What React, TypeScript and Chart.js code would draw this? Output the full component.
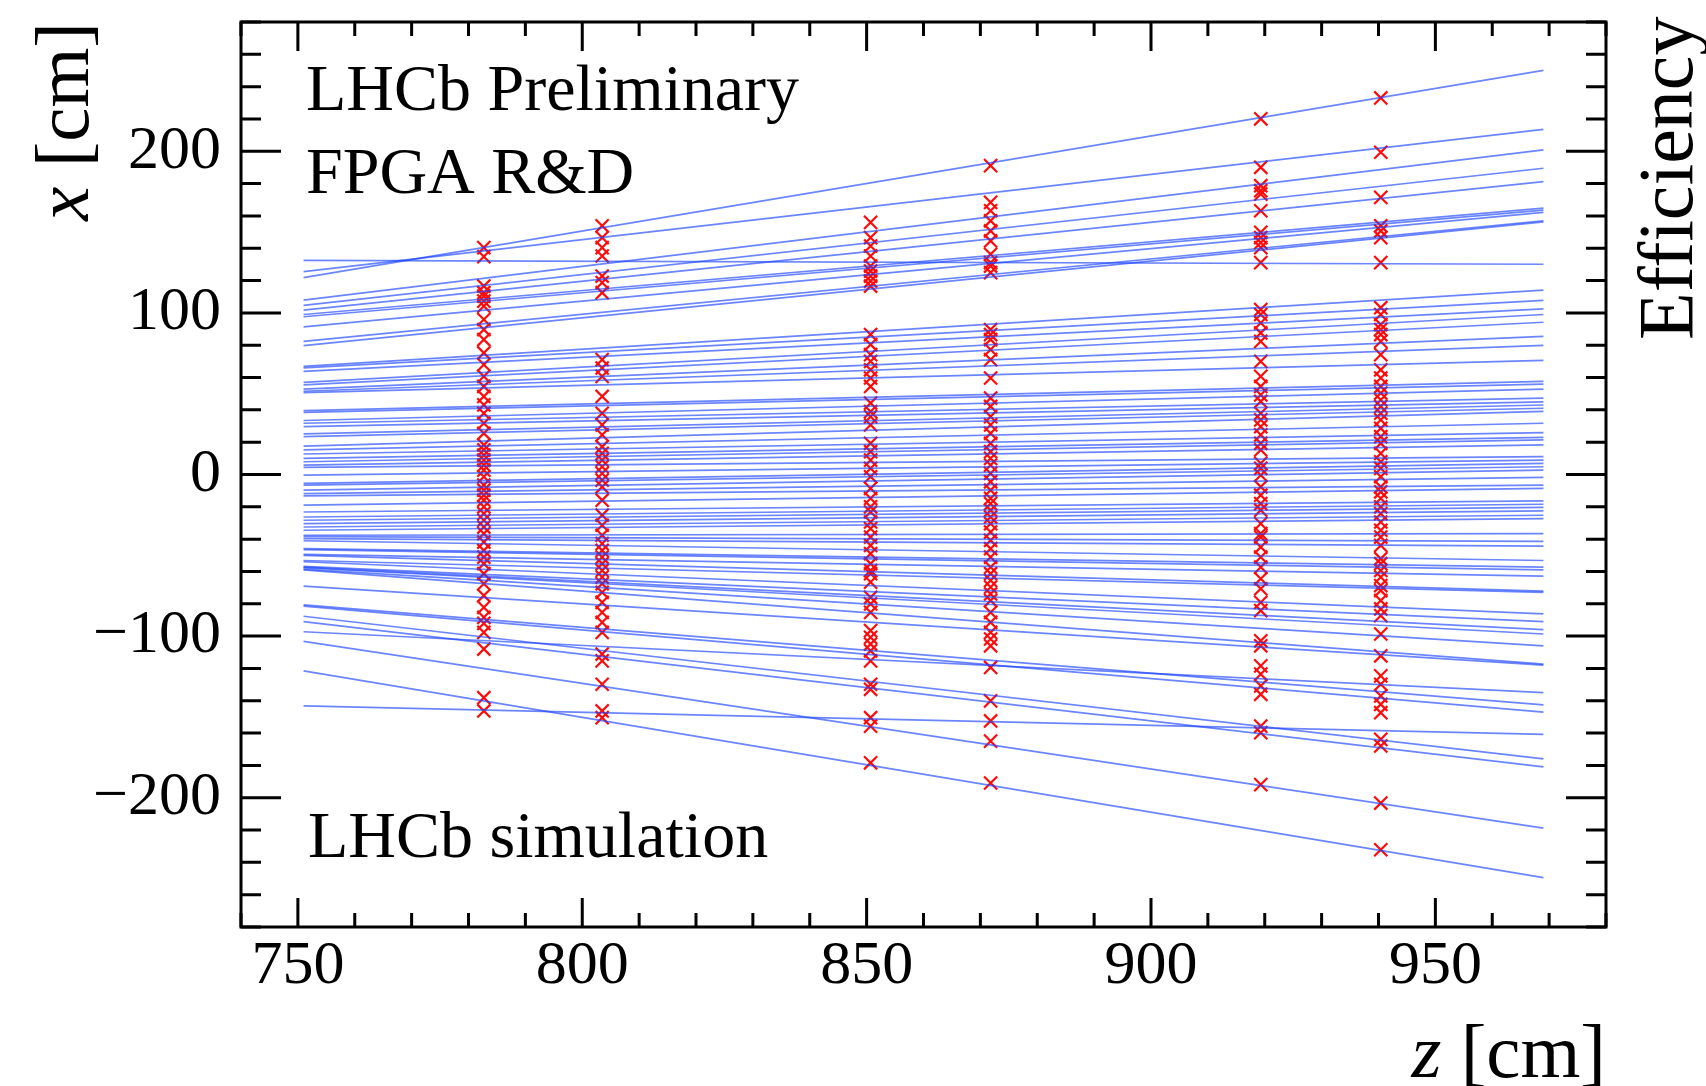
import { useEffect, useRef } from 'react';
import { Chart, registerables } from 'chart.js';

Chart.register(...registerables);

// Track line end points (x [cm]) at the first and last z of the drawn segment
const Z_START = 751;
const Z_END = 969;
const trackStarts = [
  121.8, 125.5, 132.5, 107.9, 104.6, 101.7, 99, 97.6, 91.4, 82.4, 79.8,
  66.9, 66.0, 63.8, 57, 55.5, 52.8, 51.5, 50.7,
  39.5, 38.5, 33.4, 31.7, 29.6, 25.1, 23.4, 17.6, 15.2, 12.7, 10, 7.9, 5.8, 4.4, -0.4, -5.5, -6.6, -9.7, -11.8, -13.2,
  -19, -23.2, -26.3, -28.3, -30.4, -32.5, -34.5, -37.6, -38.5, -39.7, -41, -45.9, -46.5, -49.4, -50, -53.2, -54,
  -56.9, -57.3, -57.7, -58.5, -59,
  -69.1, -80.7, -81.5, -87.7, -91, -97.3, -103.3, -121.5, -143.2,
];
const trackEnds = [
  250.1, 213.5, 130.1, 200.9, 189.5, 181.2, 164.8, 163.6, 162.2, 157, 156.3,
  114.1, 107.7, 102.5, 99, 94.2, 85.5, 79.9, 70.6,
  57.6, 55.9, 52.8, 47.3, 45, 43, 41, 39, 31.7, 25.9, 23, 21.4, 18.3, 11, 8.9, 6.9, 4.8, 2.7, -1.8, -6.6,
  -8.6, -16.3, -18.4, -20.4, -22.5, -25.2, -27.3, -36.6, -41.4, -44.3, -53.2, -57.3, -59, -62.9, -72.2, -73, -86.3,
  -91.1, -96, -98.7, -106, -117.3,
  -118, -142.6, -147, -176, -180.9, -135, -218.8, -249.4, -160.8,
];

// Station positions (z [cm]) and hits (x [cm]) at each station
const stationZ = [782.7, 803.5, 850.7, 871.8, 919.3, 940.4];
const hitsS1 = [140.4, 134.8, 116.6, 112.5, 110.4, 107.3, 104.2, 95.9, 89.7, 83.5, 75.2, 68, 60.7, 54.5, 48.3, 43.1, 37.9, 31.7, 25.5, 18.3, 15.2, 12, 8.9, 5.8, 2.7, -1.4, -6.6, -9.7, -12.8, -15.9, -20, -24.2, -28.3, -32.5, -36.6, -41.8, -47, -51.1, -55.2, -61.4, -67.6, -74.9, -82.2, -88.4, -92.1, -97.7, -108, -138.1, -146.3];
const hitsS2 = [153.9, 146.6, 140.4, 135.2, 122.8, 118.7, 112.5, 71.1, 65.9, 60.7, 48.3, 37.9, 30.7, 24.5, 17.2, 13.1, 8.9, 4.8, 0.7, -3.5, -7.6, -15.9, -25.2, -31.4, -37.6, -42.8, -47, -51.1, -55.2, -59.4, -63.5, -67.6, -72.9, -79.1, -85.3, -91.5, -97.7, -111.1, -115.3, -129.8, -146.3, -150.5];
const hitsS3 = [156, 146.6, 141.4, 135.2, 129, 125.9, 122.8, 119.7, 116.6, 86.6, 80.4, 74.2, 70, 64.8, 59.7, 54.5, 44.2, 38.9, 35.8, 30.7, 19.3, 14.1, 8.9, 3.8, -1.4, -8.6, -14.8, -20, -23.2, -29.4, -33.5, -38.7, -43.9, -49, -55.2, -59.4, -61.4, -66.6, -76, -80.1, -85.3, -96.6, -100.8, -104.9, -109.1, -115.3, -129.8, -132.9, -150.5, -155.7, -178.4];
const hitsS4 = [191.1, 168.4, 163.2, 157, 150.7, 144.5, 136.3, 131.1, 129, 124.9, 89.7, 86.6, 83.5, 77.3, 71.1, 59.7, 47.3, 42.1, 35.8, 30.7, 25.5, 19.3, 14.1, 10, 5.8, 0.7, -4.5, -9.7, -14.8, -18, -22.1, -26.3, -30.4, -35.6, -40.7, -45.9, -51.1, -57.3, -61.4, -65.6, -69.7, -73.9, -78, -85.3, -91.5, -97.7, -101.8, -106, -119.4, -140.1, -152.5, -165, -190.9];
const hitsS5 = [220.1, 190.1, 178.7, 175.6, 173.5, 163.2, 149.8, 146.6, 143.5, 140.4, 131.1, 102.1, 99, 93.8, 87.6, 82.4, 70, 60.7, 54.5, 49.3, 45.2, 37.9, 33.8, 29.6, 24.5, 19.3, 15.2, 6.9, 3.8, -0.4, -7.6, -12.8, -18, -22.1, -30.4, -36.6, -38.7, -44.9, -51.1, -57.3, -64.5, -70.7, -79.1, -84.2, -102.9, -106, -118.4, -123.5, -130.8, -136, -155.7, -159.8, -191.9];
const hitsS6 = [233, 199.4, 171.5, 153.9, 150.7, 146.6, 131.1, 103.2, 99, 92.8, 89.7, 86.6, 82.4, 74.2, 64.8, 59.7, 54.5, 50.4, 46.2, 42.1, 37.9, 33.8, 28.6, 23.4, 19.3, 13.1, 7.9, 3.8, -1.4, -7.6, -10.7, -14.8, -20, -24.2, -29.4, -34.5, -38.7, -43.9, -52.1, -55.2, -59.4, -63.5, -68.7, -71.8, -78, -83.2, -87.3, -98.7, -112.2, -124.6, -129.8, -137, -142.2, -147.4, -163.9, -168, -203.3, -232.2];
const stationHits = [hitsS1, hitsS2, hitsS3, hitsS4, hitsS5, hitsS6];

// Axis ticks
const xTickValues = [750, 800, 850, 900, 950];
const yTickValues = [-200, -100, 0, 100, 200];
const X_MIN = 740, X_MAX = 980, Y_MIN = -280, Y_MAX = 280;

const SERIF = '"Liberation Serif", "Times New Roman", serif';

const framePlugin = {
  id: 'rootFrame',
  afterDraw(chart: any) {
    const { ctx, chartArea } = chart;
    const { left, right, top, bottom } = chartArea;
    const xs = chart.scales.x;
    const ys = chart.scales.y;
    ctx.save();
    ctx.strokeStyle = '#000';
    ctx.lineWidth = 3;
    ctx.lineCap = 'butt';
    ctx.strokeRect(left, top, right - left, bottom - top);
    ctx.beginPath();
    for (let v = X_MIN; v <= X_MAX; v += 10) {
      const px = xs.getPixelForValue(v);
      const len = v % 50 === 0 ? 29 : 14;
      ctx.moveTo(px, bottom);
      ctx.lineTo(px, bottom - len);
      ctx.moveTo(px, top);
      ctx.lineTo(px, top + len);
    }
    for (let v = Y_MIN; v <= Y_MAX; v += 20) {
      const py = ys.getPixelForValue(v);
      const len = v % 100 === 0 ? 40 : 20;
      ctx.moveTo(left, py);
      ctx.lineTo(left + len, py);
      ctx.moveTo(right, py);
      ctx.lineTo(right - len, py);
    }
    ctx.stroke();

    // Labels inside the frame
    ctx.fillStyle = '#000';
    ctx.textBaseline = 'alphabetic';
    ctx.textAlign = 'left';
    ctx.font = `66px ${SERIF}`;
    ctx.fillText('LHCb Preliminary', 306, 110);
    ctx.fillText('FPGA R&D', 306, 193);
    ctx.fillText('LHCb simulation', 308, 857);

    // Axis titles
    const italic = `italic 77px ${SERIF}`;
    const normal = `77px ${SERIF}`;
    // y title: "x [cm]" rotated, ending at top of frame
    ctx.save();
    ctx.translate(88, top);
    ctx.rotate(-Math.PI / 2);
    ctx.font = normal;
    const w2 = ctx.measureText(' [cm]').width;
    ctx.font = italic;
    const w1 = ctx.measureText('x').width;
    ctx.fillText('x', -(w1 + w2), 0);
    ctx.font = normal;
    ctx.fillText(' [cm]', -w2, 0);
    ctx.restore();

    // x title: "z [cm]" right-aligned to frame
    ctx.font = normal;
    const zw2 = ctx.measureText(' [cm]').width;
    ctx.font = italic;
    const zw1 = ctx.measureText('z').width;
    ctx.fillText('z', right - zw1 - zw2, 1077);
    ctx.font = normal;
    ctx.fillText(' [cm]', right - zw2, 1077);

    // Right-side "Efficiency" title
    ctx.save();
    ctx.translate(1692, 340);
    ctx.rotate(-Math.PI / 2);
    ctx.font = `78px ${SERIF}`;
    ctx.fillText('Efficiency', 0, 0);
    ctx.restore();

    ctx.restore();
  },
};

export default function App() {
  const ref = useRef<HTMLCanvasElement>(null);
  useEffect(() => {
    if (!ref.current) return;
    const trackDatasets = trackStarts.map((s, i) => ({
      label: `track ${i}`,
      data: [
        { x: Z_START, y: s },
        { x: Z_END, y: trackEnds[i] },
      ],
      showLine: true,
      borderColor: 'rgba(30, 70, 255, 0.66)',
      borderWidth: 1.7,
      pointRadius: 0,
      order: 0,
    }));
    const hitData: { x: number; y: number }[] = [];
    stationHits.forEach((hits, k) => hits.forEach((h) => hitData.push({ x: stationZ[k], y: h })));
    const hitDataset = {
      label: 'hits',
      data: hitData,
      showLine: false,
      pointStyle: 'crossRot',
      pointRadius: 9.3,
      borderColor: '#ff0a0a',
      pointBorderColor: '#ff0a0a',
      borderWidth: 2.2,
      pointBorderWidth: 2.2,
      order: 1,
    };
    const chart = new Chart(ref.current, {
      type: 'scatter',
      data: { datasets: [...trackDatasets, hitDataset] as any },
      options: {
        responsive: false,
        animation: false,
        devicePixelRatio: 1,
        layout: { padding: { left: 0, top: 22, right: 100, bottom: 0 } },
        plugins: { legend: { display: false }, tooltip: { enabled: false } },
        elements: { line: { tension: 0 } },
        scales: {
          x: {
            type: 'linear',
            min: X_MIN,
            max: X_MAX,
            grid: { display: false, drawTicks: false },
            border: { display: false },
            afterBuildTicks: (s: any) => {
              s.ticks = xTickValues.map((v) => ({ value: v }));
            },
            afterFit: (s: any) => {
              s.height = 159;
              s.paddingLeft = 0;
              s.paddingRight = 0;
            },
            ticks: {
              autoSkip: false,
              maxRotation: 0,
              minRotation: 0,
              padding: 3,
              color: '#000',
              font: { family: SERIF, size: 62 },
            },
          },
          y: {
            type: 'linear',
            min: Y_MIN,
            max: Y_MAX,
            grid: { display: false, drawTicks: false },
            border: { display: false },
            afterBuildTicks: (s: any) => {
              s.ticks = yTickValues.map((v) => ({ value: v }));
            },
            afterFit: (s: any) => {
              s.width = 241;
              s.paddingTop = 0;
              s.paddingBottom = 0;
            },
            ticks: {
              padding: 20,
              color: '#000',
              font: { family: SERIF, size: 62 },
              callback: (v: any) => (Number(v) < 0 ? '\u2212' + Math.abs(Number(v)) : String(v)),
            },
          },
        },
      },
      plugins: [framePlugin],
    });
    return () => chart.destroy();
  }, []);
  return (
    <div style={{ position: 'absolute', left: 0, top: 0, width: 1706, height: 1086, background: '#fff', overflow: 'hidden' }}>
      <canvas ref={ref} width={1706} height={1086} style={{ width: 1706, height: 1086, display: 'block' }} />
    </div>
  );
}
